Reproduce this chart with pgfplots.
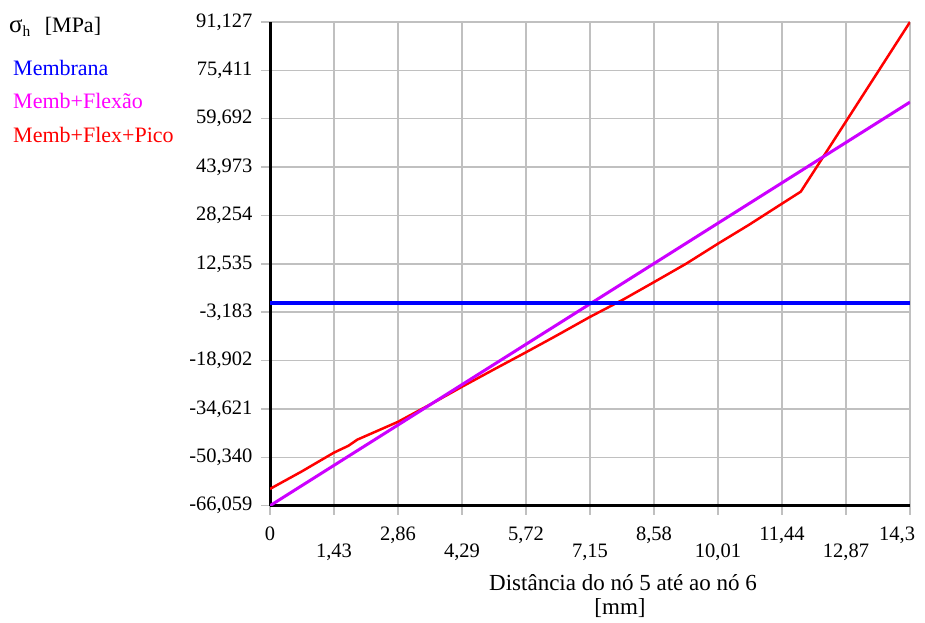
\documentclass[border=0pt]{standalone}
\usepackage{fontspec}
\setmainfont{Liberation Serif}
\usepackage{pgfplots}
\pgfplotsset{compat=1.18}
\definecolor{mag}{RGB}{204,0,255}
\definecolor{legmag}{RGB}{255,0,255}
\definecolor{gridgray}{RGB}{192,192,192}
\begin{document}
\begin{tikzpicture}[x=1pt,y=1pt]
\useasboundingbox (0,0) rectangle (925,622);
\begin{axis}[
  at={(270pt,116.3pt)}, anchor=south west,
  width=640pt, height=483.7pt, scale only axis,
  xmin=0, xmax=14.3, ymin=-66.059, ymax=91.127,
  axis x line*=bottom, axis y line*=left,
  axis line style={black, line width=3pt, -},
  grid=major, grid style={gridgray, line width=1.5pt},
  tick align=outside, major tick length=9pt,
  tick style={gridgray, line width=1.5pt},
  xtick={0,1.43,2.86,4.29,5.72,7.15,8.58,10.01,11.44,12.87,14.3},
  xticklabels={0,\raisebox{-17pt}{1,43},{2,86},\raisebox{-17pt}{4,29},{5,72},\raisebox{-17pt}{7,15},{8,58},\raisebox{-17pt}{10,01},{11,44},\raisebox{-17pt}{12,87},\makebox[10pt][r]{14,3}},
  ytick={-66.059,-50.340,-34.621,-18.902,-3.183,12.535,28.254,43.973,59.692,75.411,91.127},
  yticklabels={{-66,059},{-50,340},{-34,621},{-18,902},{-3,183},{12,535},{28,254},{43,973},{59,692},{75,411},{91,127}},
  ticklabel style={font=\fontsize{20.5}{24}\selectfont, text=black},
  xticklabel style={anchor=base, yshift=-26pt},
  yticklabel style={anchor=east, xshift=-5pt},
]
\addplot[red, line width=2.5pt] coordinates {
  (0,-60.6) (0.7,-55.0) (1.43,-48.8) (1.75,-46.6) (1.95,-44.6) (2.86,-38.8)
  (3.6,-33.0) (4.29,-27.4) (5.0,-21.8) (5.72,-16.2) (6.4,-10.8) (7.15,-4.7)
  (7.9,1.0) (8.58,6.6) (9.3,12.6) (10.01,19.1) (10.7,25.2) (11.44,32.1)
  (11.86,36.0) (14.3,91.127)
};
\addplot[mag, line width=3pt] coordinates {(0,-66.059) (14.3,65.1)};
\addplot[blue, line width=4pt] coordinates {(0,-0.3) (14.3,-0.3)};
\end{axis}
\begin{scope}[every node/.style={anchor=base west, inner sep=0pt, font=\rmfamily\fontsize{22}{26}\selectfont}]
\node at (9,589) {{\fontsize{25}{26}\selectfont σ}\textsubscript{h}\hspace{14pt}[MPa]};
\node[text=blue] at (13,546) {Membrana};
\node[text=legmag] at (13,513) {Memb+Flexão};
\node[text=red] at (13,479) {Memb+Flex+Pico};
\end{scope}
\node[anchor=base, inner sep=0pt, font=\rmfamily\fontsize{23}{26}\selectfont] at (623,32) {Distância do nó 5 até ao nó 6};
\node[anchor=base, inner sep=0pt, font=\rmfamily\fontsize{23}{26}\selectfont] at (620,8) {[mm]};
\end{tikzpicture}
\end{document}
